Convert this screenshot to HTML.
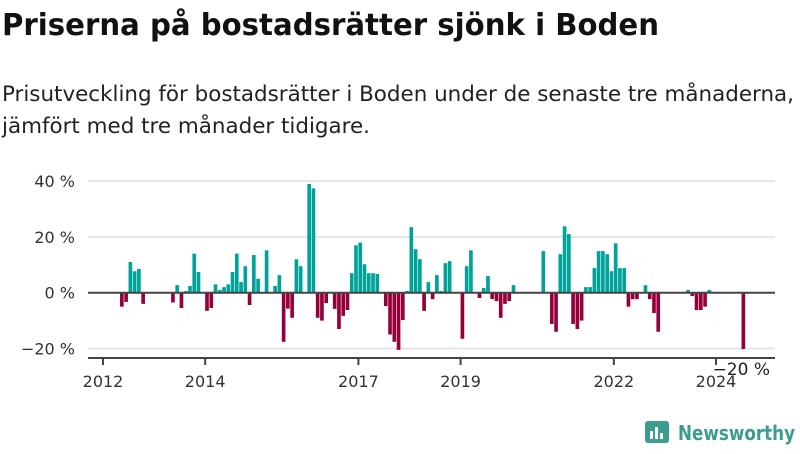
<!DOCTYPE html>
<html><head><meta charset="utf-8"><style>
body{margin:0;background:#fff;width:800px;height:450px;overflow:hidden;font-family:"DejaVu Sans","Liberation Sans",sans-serif}
</style></head><body>
<svg width="800" height="450" xmlns="http://www.w3.org/2000/svg" font-family="DejaVu Sans, Liberation Sans, sans-serif">
<text x="2" y="35" font-size="30" font-weight="bold" fill="#111" textLength="657" lengthAdjust="spacingAndGlyphs">Priserna på bostadsrätter sjönk i Boden</text>
<text x="2" y="101" font-size="21" fill="#222" textLength="792" lengthAdjust="spacingAndGlyphs">Prisutveckling för bostadsrätter i Boden under de senaste tre månaderna,</text>
<text x="2" y="133" font-size="21" fill="#222" textLength="368" lengthAdjust="spacingAndGlyphs">jämfört med tre månader tidigare.</text>
<g id="grid"></g><g id="bars"></g><g id="axes"></g>
<g>
<rect x="645" y="421" width="24" height="22" rx="3" fill="#3b9c8f"/>
<rect x="650" y="431" width="3" height="8" fill="#fff"/><rect x="655" y="427" width="3" height="12" fill="#fff"/><rect x="660" y="433" width="3" height="6" fill="#fff"/>
<text x="678" y="440" font-size="20" font-weight="bold" fill="#3b9c8f" textLength="117" lengthAdjust="spacingAndGlyphs">Newsworthy</text>
</g>
</svg>
<script>
const yTicks=[40,20,0,-20];
const yTickLabels=["40 %","20 %","0 %","−20 %"];
const xYears=[2012,2014,2017,2019,2022,2024];
const months=[4,5,6,7,8,9,16,17,18,19,20,21,22,24,25,26,27,28,29,30,31,32,33,34,35,36,38,40,41,42,43,44,45,46,48,49,50,51,52,54,55,56,57,58,59,60,61,62,63,64,66,67,68,69,70,71,72,73,74,75,76,77,78,79,80,81,84,85,86,88,89,90,91,92,93,94,95,96,103,105,106,107,108,109,110,111,112,113,114,115,116,117,118,119,120,121,122,123,124,125,127,128,129,130,137,138,139,140,141,142,150];
const values=[-5,-3.3,11,7.7,8.5,-4,-3.5,2.7,-5.5,0.6,2.4,14,7.4,-6.5,-5.5,3,1,2,3,7.4,14,3.8,9.5,-4.4,13.5,5,15.2,2.4,6.3,-17.6,-5.7,-9,12,9.5,39,37.4,-9,-10,-3.7,-5.8,-13,-8.3,-6.2,7,17,18,10.2,7,7,6.7,-4.8,-15,-17.6,-20.5,-9.8,0.6,23.5,15.6,12,-6.5,3.8,-2.3,6.3,0.6,10.6,11.3,-16.5,9.5,15.2,-1.9,1.7,6,-2.3,-3,-9,-4,-3,2.7,14.9,-11.2,-14,13.8,23.8,21,-11.2,-13,-10,2,2,8.8,14.9,14.9,13.8,7.7,17.7,8.8,8.8,-5,-2.3,-2.3,2.7,-2.3,-7.3,-14,1,-1.2,-6.2,-6.2,-5,1,-20.2];
const NS="http://www.w3.org/2000/svg";
const x0=103,pxm=(716-103)/144;
const xm=m=>x0+m*pxm;
const xYear=y=>x0+(y-2012)*12*pxm;
const yv=v=>292.7-v*2.79;
function mk(t,a,p){const e=document.createElementNS(NS,t);for(const k in a)e.setAttribute(k,a[k]);p.appendChild(e);return e;}
const grid=document.getElementById('grid'),bars=document.getElementById('bars'),axes=document.getElementById('axes');
yTicks.forEach((t,i)=>{
 if(t!==0){const l=mk('line',{x1:88,x2:775,y1:yv(t),y2:yv(t),stroke:'#e5e5e5','stroke-width':2},grid);
 
 }
 const tx=mk('text',{x:75,y:yv(t)+6,'text-anchor':'end','font-size':16,fill:'#333'},axes);
 tx.textContent=yTickLabels[i];
 
 
});
months.forEach((m,i)=>{
 const v=values[i];const x=xm(m);const y=yv(Math.max(v,0));const h=Math.abs(yv(v)-yv(0));
 const r=mk('rect',{x:x,y:y,width:pxm*0.86,height:Math.max(h,0.5),fill:v>=0?'#00a39a':'#96003a'},bars);
 
 
});
const z=mk('line',{x1:88,x2:775,y1:yv(0),y2:yv(0),stroke:'#444','stroke-width':2},axes);


const xa=mk('line',{x1:88,x2:775,y1:358,y2:358,stroke:'#444','stroke-width':2},axes);


xYears.forEach(y=>{
 const tk=mk('line',{x1:xYear(y),x2:xYear(y),y1:358,y2:365,stroke:'#444','stroke-width':2},axes);
 
 
 const t=mk('text',{x:xYear(y),y:387,'text-anchor':'middle','font-size':16,fill:'#333'},axes);
 t.textContent=y;
 
 
});
const ann=mk('text',{x:770,y:375,'text-anchor':'end','font-size':17,fill:'#222'},axes);
ann.textContent='−20 %';


</script>
</body></html>
